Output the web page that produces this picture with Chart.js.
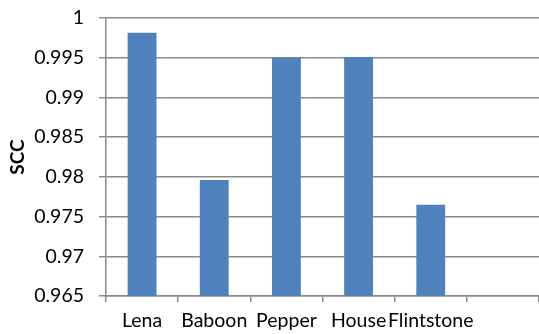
<!DOCTYPE html>
<html>
<head>
<meta charset="utf-8">
<script src="https://cdn.jsdelivr.net/npm/chart.js@4"></script>
<style>
  html, body { margin: 0; padding: 0; background: #ffffff; }
  canvas { display: block; }
</style>
</head>
<body>
<canvas id="chart" width="539" height="334"></canvas>
<script>
// Image names on the category axis (the last slot is left empty)
const categories = ['Lena', 'Baboon', 'Pepper', 'House', 'Flintstone', ''];
// SCC value for each image
const sccValues = [0.99815, 0.9796, 0.9950, 0.9951, 0.9765, null];
// Value axis range and tick step
const yMin = 0.965;
const yMax = 1;
const yStep = 0.005;

const gridColor = '#8a8a8a';
const labelFont = { family: 'Lato', size: 19.5 };

new Chart(document.getElementById('chart'), {
  type: 'bar',
  data: {
    labels: categories,
    datasets: [{
      label: 'SCC',
      data: sccValues,
      backgroundColor: '#4f81bd',
      borderWidth: 0,
      barPercentage: 0.4,
      categoryPercentage: 1
    }]
  },
  options: {
    responsive: false,
    animation: false,
    devicePixelRatio: 1,
    layout: { padding: { top: 18, right: 0, left: 0, bottom: 0 } },
    plugins: {
      legend: { display: false },
      tooltip: { enabled: false }
    },
    scales: {
      x: {
        grid: {
          offset: true,
          drawOnChartArea: false,
          drawTicks: true,
          tickLength: 6,
          color: gridColor,
          lineWidth: 1.5
        },
        border: { display: true, color: gridColor, width: 1.5 },
        ticks: {
          color: '#000000',
          font: labelFont,
          padding: 7,
          maxRotation: 0,
          autoSkip: false
        },
        afterFit(scale) {
          scale.height = 38;
          scale.paddingLeft = 0;
          scale.paddingRight = 0;
        }
      },
      y: {
        min: yMin,
        max: yMax,
        grid: {
          color: gridColor,
          lineWidth: 1.5,
          drawTicks: true,
          tickLength: 7
        },
        border: { display: true, color: gridColor, width: 1.5 },
        ticks: {
          stepSize: yStep,
          color: '#000000',
          font: labelFont,
          padding: 15,
          callback: (v) => Number(v.toFixed(3)).toString()
        },
        title: {
          display: true,
          text: 'SCC',
          color: '#000000',
          font: { family: 'Lato', size: 19, weight: 'bold' },
          padding: { top: 6, bottom: 0 }
        },
        afterFit(scale) {
          scale.width = 106;
          scale.paddingTop = 0;
          scale.paddingBottom = 0;
        }
      }
    }
  }
});
</script>
</body>
</html>
